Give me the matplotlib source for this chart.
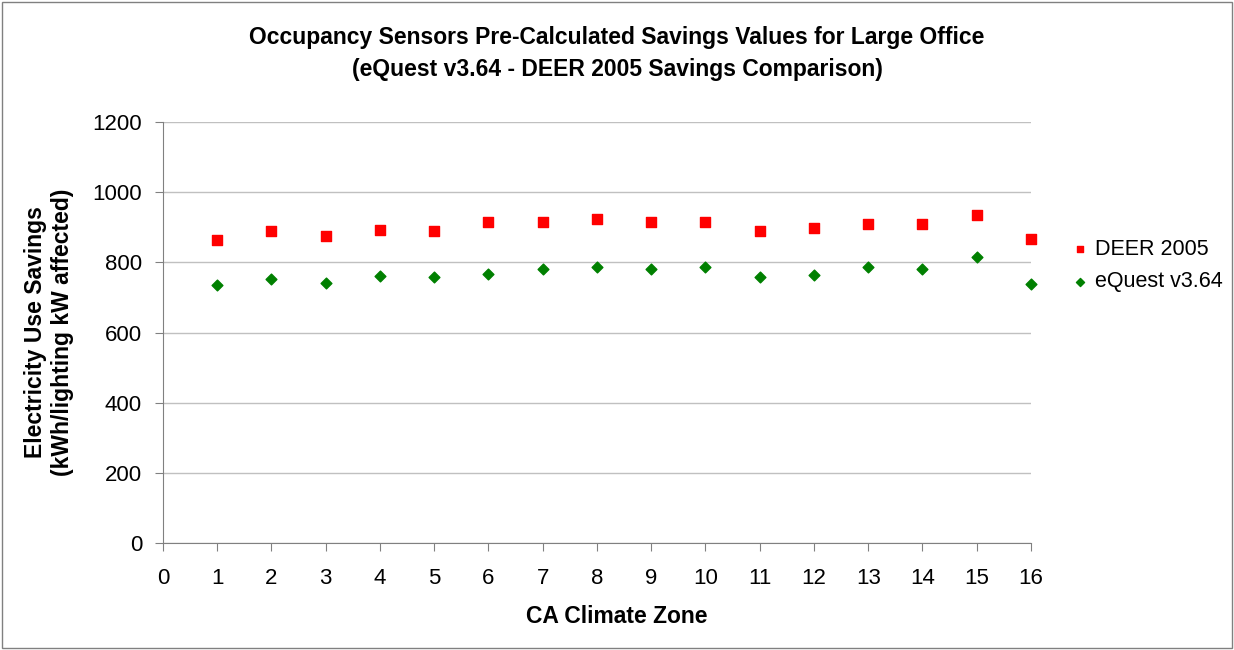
import matplotlib.pyplot as plt
from matplotlib.patches import Rectangle

plt.rcParams["font.family"] = ["Liberation Sans", "DejaVu Sans"]

ZONES = list(range(1, 17))
DEER_2005 = [863, 888, 876, 893, 889, 914, 914, 923, 914, 914, 888, 897, 910, 910, 935, 867]
EQUEST_364 = [735, 752, 742, 760, 759, 768, 781, 786, 781, 786, 759, 764, 786, 781, 815, 738]

TITLE = "Occupancy Sensors Pre-Calculated Savings Values for Large Office\n(eQuest v3.64 - DEER 2005 Savings Comparison)"
X_LABEL = "CA Climate Zone"
Y_LABEL = "Electricity Use Savings\n(kWh/lighting kW affected)"


def main() -> None:
    fig = plt.figure(figsize=(12.34, 6.5), dpi=100)
    ax = fig.add_axes([0.132, 0.1646, 0.7035, 0.6477])

    ax.scatter(ZONES, DEER_2005, marker="s", s=42, color="#ff0000", label="DEER 2005",
               zorder=3, clip_on=False)
    ax.scatter(ZONES, EQUEST_364, marker="D", s=30, color="#008000", label="eQuest v3.64",
               zorder=3, clip_on=False)

    ax.set_xlim(0, 16)
    ax.set_ylim(0, 1200)
    ax.set_xticks(range(0, 17))
    ax.set_yticks(range(0, 1201, 200))
    ax.grid(axis="y", color="#c0c0c0", linewidth=1)
    ax.set_axisbelow(True)
    for side in ("top", "right"):
        ax.spines[side].set_visible(False)
    for side in ("left", "bottom"):
        ax.spines[side].set_color("#808080")
    ax.tick_params(axis="both", labelsize=16, color="#808080", length=6, direction="out")
    ax.tick_params(axis="x", pad=12)
    ax.tick_params(axis="y", pad=9)

    fig.text(0.5, 0.0508, X_LABEL, ha="center", va="center", fontsize=16.5, fontweight="bold")
    fig.text(49 / 1234, 0.4885, Y_LABEL, ha="center", va="center", rotation=90,
             fontsize=16.5, fontweight="bold", linespacing=1.2)
    fig.text(0.5, 0.9177, TITLE, ha="center", va="center", fontsize=16.5,
             fontweight="bold", linespacing=1.45)

    ax.legend(loc="center left", bbox_to_anchor=(1.037, 0.659), borderaxespad=0,
              frameon=False, fontsize=15.5, handlelength=0.8, handletextpad=0.3,
              labelspacing=0.55, markerscale=0.75)

    fig.patches.append(Rectangle((0.002, 0.003), 0.996, 0.994, transform=fig.transFigure,
                                 fill=False, edgecolor="#808080", linewidth=1))

    fig.savefig("out.png", dpi=100)


if __name__ == "__main__":
    main()
